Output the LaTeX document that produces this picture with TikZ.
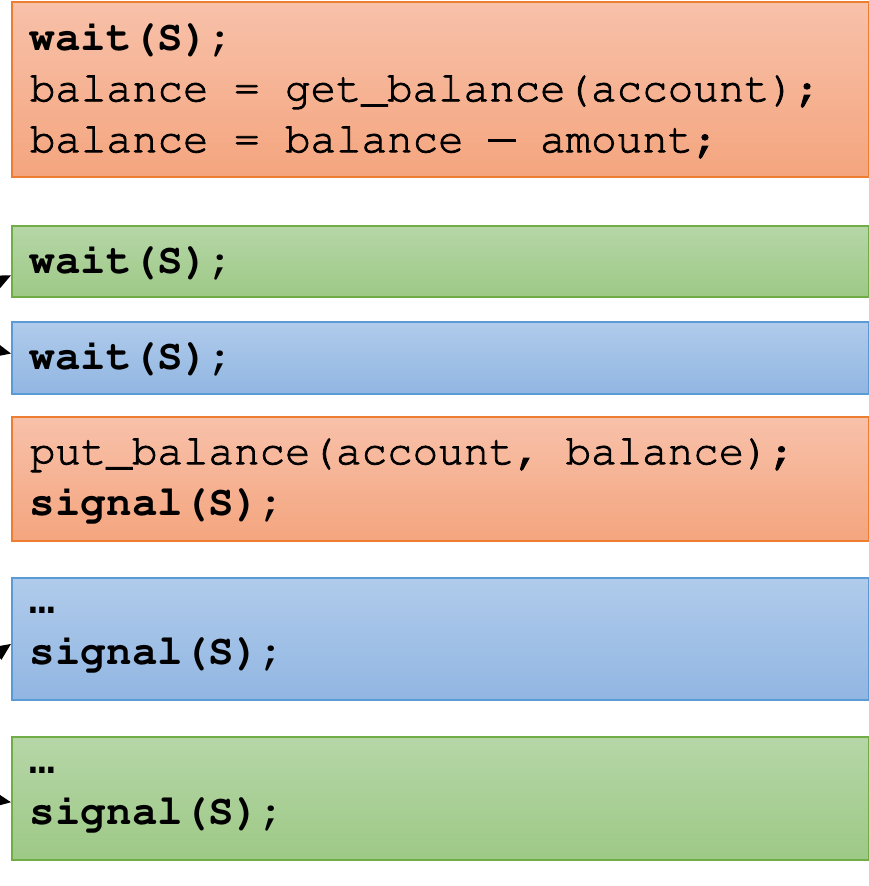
\documentclass[tikz,border=0pt]{standalone}
\usepackage[T1,TU]{fontenc}
\usepackage{fontspec}
\newfontfamily\dotsfont{Liberation Mono}
\DeclareRobustCommand\codestyle{\fontencoding{T1}\fontfamily{pcr}\fontsize{24.2}{29}\selectfont}
\newcommand\codedots{{\dotsfont\bfseries …}}
\newcommand\codedash{\makebox[0.6em]{\rule[0.24em]{0.64em}{0.075em}}}
\newcommand\heavyline[1]{\special{pdf:literal direct 0 G 2 Tr 0.45 w}#1\special{pdf:literal direct 0 Tr}}
\usetikzlibrary{arrows.meta,calc}
\definecolor{orangeline}{HTML}{ED7D31}
\definecolor{orangetop}{RGB}{248,193,170}
\definecolor{orangebottom}{RGB}{244,165,126}
\definecolor{greenline}{HTML}{70AD47}
\definecolor{greentop}{RGB}{182,214,167}
\definecolor{greenbottom}{RGB}{157,201,134}
\definecolor{blueline}{HTML}{5B9BD5}
\definecolor{bluetop}{RGB}{176,203,235}
\definecolor{bluebottom}{RGB}{145,182,226}
\begin{document}
\begin{tikzpicture}[
    x=0.02cm, y=-0.02cm,
    code box/.style={draw, line width=1.1pt, anchor=north west, text width=16.42cm,
        inner xsep=0.36cm, inner ysep=0pt, align=flush left, font=\codestyle},
    orange box/.style={code box, draw=orangeline, top color=orangetop, bottom color=orangebottom},
    green box/.style={code box, draw=greenline, top color=greentop, bottom color=greenbottom},
    blue box/.style={code box, draw=blueline, top color=bluetop, bottom color=bluebottom},
    thin arrow/.style={draw, line width=0.8pt, -{Triangle[length=0.34cm, width=0.3cm]}},
    ]
\useasboundingbox (0,0) rectangle (869,886);
\clip (0,0) rectangle (869,886);
\node[orange box, minimum height=3.5cm] (waitO) at (11,1)
    {\textbf{wait(S);}\\\heavyline{balance = get\_balance(account);}\\\heavyline{balance = balance \codedash{} amount;}};
\node[green box, minimum height=1.42cm] (waitG) at (11,225) {\textbf{wait(S);}};
\node[blue box, minimum height=1.44cm] (waitB) at (11,321) {\textbf{wait(S);}};
\node[orange box, minimum height=2.48cm] (putO) at (11,416)
    {\heavyline{put\_balance(account, balance);}\\\textbf{signal(S);}};
\node[blue box, minimum height=2.44cm] (signalB) at (11,577) {\codedots\\\textbf{signal(S);}};
\node[green box, minimum height=2.46cm] (signalG) at (11,736) {\codedots\\\textbf{signal(S);}};
\coordinate (fromG) at (-60,309);
\coordinate (fromB) at (-60,337);
\coordinate (fromSB) at (-60,693);
\coordinate (fromSG) at (-60,791);
\draw[thin arrow] (fromG) -- ($(waitG.south west)!0.31!(waitG.north west)$);
\draw[thin arrow] (fromB) -- ($(waitB.south west)!0.56!(waitB.north west)$);
\draw[thin arrow] (fromSB) -- ($(signalB.south west)!0.46!(signalB.north west)$);
\draw[thin arrow] (fromSG) -- ($(signalG.south west)!0.47!(signalG.north west)$);
\end{tikzpicture}
\end{document}
